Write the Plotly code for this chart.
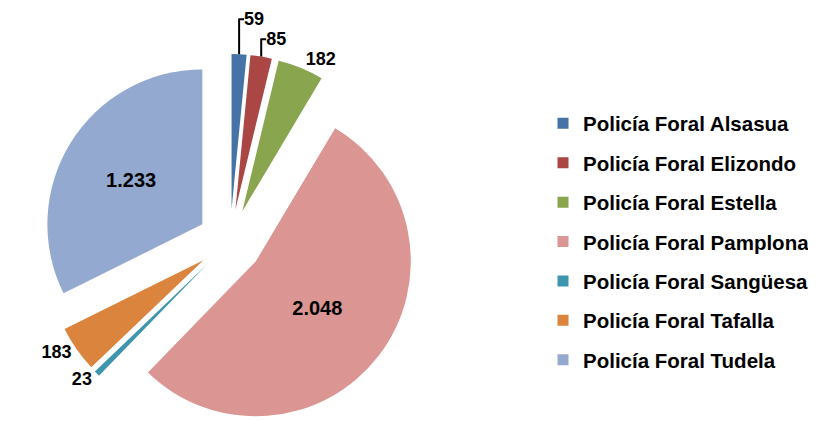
import plotly.graph_objects as go

# Data
stations = [
    "Policía Foral Alsasua",
    "Policía Foral Elizondo",
    "Policía Foral Estella",
    "Policía Foral Pamplona",
    "Policía Foral Sangüesa",
    "Policía Foral Tafalla",
    "Policía Foral Tudela",
]
counts = [59, 85, 182, 2048, 23, 183, 1233]
colors = ["#4572A7", "#AA4643", "#89A54E", "#DB9694", "#3D96AE", "#DB843D", "#93A9CF"]

FONT = "Arial, Liberation Sans, sans-serif"
W, H = 816, 421

fig = go.Figure()

fig.add_trace(go.Pie(
    labels=stations,
    values=counts,
    sort=False,
    direction="clockwise",
    rotation=0,
    pull=0.21,
    marker=dict(colors=colors, line=dict(width=0)),
    texttemplate="%{value:,}",
    textposition=["outside", "outside", "outside", "inside", "outside", "outside", "inside"],
    insidetextorientation="horizontal",
    textfont=dict(family=FONT, size=20, color="black", weight="bold"),
    insidetextfont=dict(family=FONT, size=20, color="black", weight="bold"),
    outsidetextfont=dict(family=FONT, size=18, color="black", weight="bold"),
    domain=dict(x=[0, 444 / W], y=[0, 1 - 46 / H]),
    showlegend=False,
    hoverinfo="label+value",
))

# Legend entries (one group per station so spacing can be controlled)
for name, col in zip(stations, colors):
    fig.add_trace(go.Scatter(
        x=[None], y=[None], mode="markers", name=name, legendgroup=name,
        marker=dict(symbol="square", size=11, color=col),
        hoverinfo="skip",
    ))

fig.update_layout(
    width=W, height=H,
    margin=dict(l=0, r=0, t=0, b=0, autoexpand=False),
    paper_bgcolor="white",
    plot_bgcolor="white",
    separators=",.",
    xaxis=dict(visible=False),
    yaxis=dict(visible=False),
    showlegend=True,
    legend=dict(
        x=535 / W, y=1 - 234 / H, xanchor="left", yanchor="middle",
        font=dict(family=FONT, size=20.5, color="black", weight="bold"),
        tracegroupgap=9.75,
        bgcolor="rgba(0,0,0,0)",
    ),
)

fig.write_html("out.html")
